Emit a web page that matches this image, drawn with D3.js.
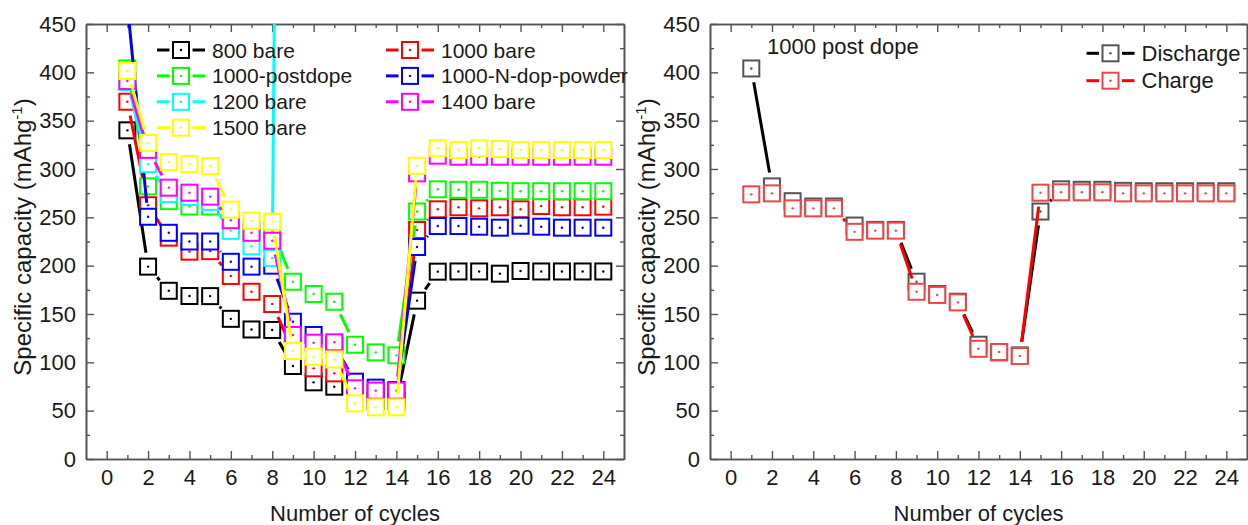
<!DOCTYPE html>
<html>
<head>
<meta charset="utf-8">
<script src="https://cdn.jsdelivr.net/npm/d3@7"></script>
<style>
  html, body { margin: 0; padding: 0; background: #fff; }
  svg { display: block; font-family: "Liberation Sans", Arial, sans-serif; }
</style>
</head>
<body>
<svg id="chart" width="1248" height="525"></svg>
<script>
// ---- data: specific capacity (mAh/g) per cycle ----
const cycles = d3.range(1, 25);

const bare800 = [340, 199, 174, 168.6, 168.5, 145, 134, 133.5, 96.2, 79.3, 74.8, 63, 60, 60,
                 163.8, 193.8, 194, 194, 191.7, 194.5, 194, 194, 194, 194];
const bare1000 = [369.6, 262.5, 229, 214.5, 215, 189.3, 173, 160.3, 112, 93.8, 88.6, 72, 68, 67,
                  236.9, 258.3, 260.4, 259.3, 260.4, 258.3, 261.7, 260.4, 260.4, 261];
const postdope1000Discharge = [404, 282, 266.7, 261.2, 261.2, 241.5, 237, 237, 183.4, 170.7, 162.7, 118.2, 110.3, 107.2,
                               256, 279, 278.5, 278.5, 277.4, 277, 277, 277, 277, 277];
const postdope1000Charge = [273.8, 274.8, 259.3, 259.3, 259.3, 235, 236.2, 236.2, 173, 169.7, 162, 114, 110.7, 106.5,
                            275.5, 275.9, 275.9, 275.9, 274.8, 274.8, 274.8, 274.8, 274.8, 274.8];
const nDopPowder1000 = [470, 250.6, 234, 225, 225, 204, 199, 200, 142, 128.3, 118, 80, 73.8, 71.4,
                        219.3, 241, 241, 240.3, 239.3, 241.3, 240.3, 239.3, 239.3, 239.3];
const bare1200 = [390, 305, 274, 271, 266, 236, 220, 208, 2700];
const bare1400 = [391, 319.8, 280.7, 275.5, 271.4, 247, 234, 225.8, 128.3, 120.3, 120.7, 73.1, 70.7, 70.7,
                  295.5, 313.8, 312.7, 312.7, 312.7, 312.7, 312.7, 312.7, 312.7, 312.7];
const bare1500 = [401.4, 327, 307, 305, 303, 258, 246.5, 245.5, 111.7, 105.8, 103, 57.6, 53.5, 53.5,
                  303.4, 321.4, 319.6, 321.4, 320.7, 319.6, 319.6, 319.6, 319.6, 319.6];

const leftNames = ["800 bare", "1000 bare", "1000-postdope", "1000-N-dop-powder", "1200 bare", "1400 bare", "1500 bare"];
const leftValues = [bare800, bare1000, postdope1000Discharge, nDopPowder1000, bare1200, bare1400, bare1500];
const leftColors = ["#000000", "#ff0000", "#00ff00", "#0000ff", "#00ffff", "#ff00ff", "#ffff00"];

const rightNames = ["Discharge", "Charge"];
const rightValues = [postdope1000Discharge, postdope1000Charge];
const rightLineColors = ["#000000", "#ff0000"];
const rightMarkerColors = ["#555555", "#f04545"];

const xTickValues = d3.range(0, 25, 2);
const xMinorValues = d3.range(1, 25, 2);
const yTickValues = d3.range(0, 451, 50);
const yMinorValues = d3.range(25, 450, 50);

// ---- drawing ----
const AXIS = "#555";
const INK = "#1a1a1a";
const GAP = 14;       // line gap around each marker centre
const BOX = 16;       // square marker side
const svg = d3.select("#chart");

function makePanel(id, left, right) {
  const x = d3.scaleLinear().domain([-1, 25]).range([left, right]);
  const y = d3.scaleLinear().domain([0, 450]).range([459, 24]);
  const g = svg.append("g").attr("class", id);

  svg.append("clipPath").attr("id", "clip-" + id)
    .append("rect")
    .attr("x", left).attr("y", 24)
    .attr("width", right - left).attr("height", 459 - 24);

  const style = sel => {
    sel.select(".domain").attr("stroke", AXIS).attr("stroke-width", 1.6);
    sel.selectAll(".tick line").attr("stroke", AXIS).attr("stroke-width", 1.4);
    sel.selectAll(".tick text").attr("fill", INK).attr("font-size", 22);
  };

  // bottom
  g.append("g").attr("transform", `translate(0,${y(0)})`)
    .call(d3.axisBottom(x).tickValues(xTickValues).tickSizeInner(-8).tickSizeOuter(0).tickPadding(10).tickFormat(d3.format("d")))
    .call(style);
  g.append("g").attr("transform", `translate(0,${y(0)})`)
    .call(d3.axisBottom(x).tickValues(xMinorValues).tickSizeInner(-4).tickSizeOuter(0).tickFormat(""))
    .call(style);
  // top
  g.append("g").attr("transform", `translate(0,${y(450)})`)
    .call(d3.axisTop(x).tickValues(xTickValues).tickSizeInner(-8).tickSizeOuter(0).tickFormat(""))
    .call(style);
  g.append("g").attr("transform", `translate(0,${y(450)})`)
    .call(d3.axisTop(x).tickValues(xMinorValues).tickSizeInner(-4).tickSizeOuter(0).tickFormat(""))
    .call(style);
  // left
  g.append("g").attr("transform", `translate(${x(-1)},0)`)
    .call(d3.axisLeft(y).tickValues(yTickValues).tickSizeInner(-8).tickSizeOuter(0).tickPadding(10).tickFormat(d3.format("d")))
    .call(style);
  g.append("g").attr("transform", `translate(${x(-1)},0)`)
    .call(d3.axisLeft(y).tickValues(yMinorValues).tickSizeInner(-4).tickSizeOuter(0).tickFormat(""))
    .call(style);
  // right
  g.append("g").attr("transform", `translate(${x(25)},0)`)
    .call(d3.axisRight(y).tickValues(yTickValues).tickSizeInner(-8).tickSizeOuter(0).tickFormat(""))
    .call(style);
  g.append("g").attr("transform", `translate(${x(25)},0)`)
    .call(d3.axisRight(y).tickValues(yMinorValues).tickSizeInner(-4).tickSizeOuter(0).tickFormat(""))
    .call(style);

  // axis titles
  g.append("text")
    .attr("x", (left + right) / 2).attr("y", 521)
    .attr("text-anchor", "middle").attr("font-size", 22).attr("fill", INK)
    .text("Number of cycles");

  const yt = g.append("text")
    .attr("transform", `translate(${left - 55},237) rotate(-90)`)
    .attr("text-anchor", "middle").attr("font-size", 24).attr("fill", INK);
  yt.append("tspan").text("Specific capacity (mAhg");
  yt.append("tspan").attr("font-size", 15).attr("dy", -9).text("-1");
  yt.append("tspan").attr("dy", 9).text(")");

  const plot = g.append("g").attr("clip-path", `url(#clip-${id})`);
  return { x, y, g, plot };
}

function marker(sel, color) {
  sel.append("rect")
    .attr("x", -BOX / 2).attr("y", -BOX / 2).attr("width", BOX).attr("height", BOX)
    .attr("fill", "#fff").attr("stroke", color).attr("stroke-width", 2);
  sel.append("circle").attr("r", 1.2).attr("fill", color);
}

function drawSeries(p, values, lineColor, markerColor) {
  const pts = values.map((v, i) => [p.x(cycles[i]), p.y(v)]);
  const segs = [];
  for (let i = 0; i + 1 < pts.length; i++) {
    const [ax, ay] = pts[i], [bx, by] = pts[i + 1];
    const dx = bx - ax, dy = by - ay, len = Math.hypot(dx, dy);
    if (len <= 2 * GAP) continue;
    const ux = dx / len, uy = dy / len;
    segs.push([[ax + ux * GAP, ay + uy * GAP], [bx - ux * GAP, by - uy * GAP]]);
  }
  const s = p.plot.append("g");
  s.selectAll("path").data(segs).join("path")
    .attr("d", d3.line())
    .attr("fill", "none").attr("stroke", lineColor)
    .attr("stroke-width", 3).attr("stroke-linecap", "butt");
  s.selectAll("g.pt").data(pts).join("g").attr("class", "pt")
    .attr("transform", d => `translate(${d[0]},${d[1]})`)
    .each(function () { marker(d3.select(this), markerColor); });
}

function legendItem(g, cx, cy, lineColor, markerColor, label, fontSize) {
  g.append("line").attr("x1", cx - 24).attr("x2", cx - 11.5).attr("y1", cy).attr("y2", cy)
    .attr("stroke", lineColor).attr("stroke-width", 3);
  g.append("line").attr("x1", cx + 11.5).attr("x2", cx + 24).attr("y1", cy).attr("y2", cy)
    .attr("stroke", lineColor).attr("stroke-width", 3);
  marker(g.append("g").attr("transform", `translate(${cx},${cy})`), markerColor);
  g.append("text").attr("x", cx + 31).attr("y", cy + 7.5)
    .attr("font-size", fontSize).attr("fill", INK).text(label);
}

// ---- left panel: all samples ----
const L = makePanel("left", 86, 624);
leftValues.forEach((vals, i) => drawSeries(L, vals, leftColors[i], leftColors[i]));
const legL = L.g.append("g");
leftNames.forEach((name, i) => {
  const col = i % 2, row = Math.floor(i / 2);
  legendItem(legL, col === 0 ? 181 : 410, 50 + row * 25.9, leftColors[i], leftColors[i], name, 21);
});

// ---- right panel: 1000 post dope, discharge vs charge ----
const R = makePanel("right", 710, 1247);
rightValues.forEach((vals, i) => drawSeries(R, vals, rightLineColors[i], rightMarkerColors[i]));
R.g.append("text").attr("x", 767).attr("y", 54)
  .attr("font-size", 22).attr("fill", INK).text("1000 post dope");
const legR = R.g.append("g");
rightNames.forEach((name, i) => {
  legendItem(legR, 1110.5, 53.3 + i * 27.4, rightLineColors[i], rightMarkerColors[i], name, 22);
});
</script>
</body>
</html>
